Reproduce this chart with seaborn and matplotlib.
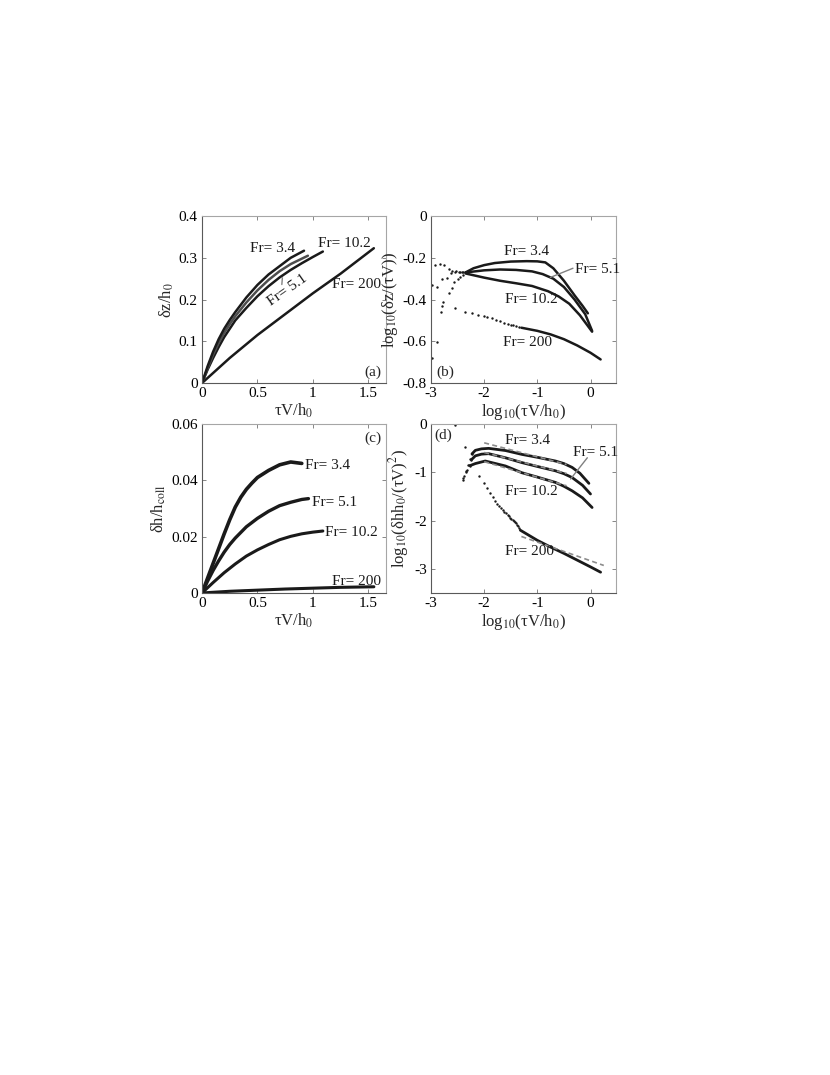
import numpy as np
import matplotlib
matplotlib.use('Agg')
import matplotlib.pyplot as plt
import seaborn as sns

# ---- panel (a): dz/h0 vs tauV/h0 ----
a34_x = [0, 0.05, 0.1, 0.15, 0.2, 0.25, 0.3, 0.4, 0.5, 0.6, 0.7, 0.8, 0.92]
a34_y = [0, 0.04, 0.075, 0.105, 0.13, 0.151, 0.17, 0.205, 0.235, 0.26, 0.28, 0.30, 0.317]
a51_x = [0, 0.05, 0.1, 0.15, 0.2, 0.25, 0.3, 0.4, 0.5, 0.6, 0.7, 0.8, 0.955]
a51_y = [0, 0.035, 0.068, 0.096, 0.12, 0.141, 0.16, 0.193, 0.222, 0.247, 0.268, 0.285, 0.305]
a102_x = [0, 0.05, 0.1, 0.15, 0.2, 0.3, 0.4, 0.5, 0.6, 0.7, 0.8, 0.9, 1.0, 1.09]
a102_y = [0, 0.032, 0.06, 0.086, 0.11, 0.15, 0.18, 0.208, 0.232, 0.253, 0.271, 0.287, 0.302, 0.315]
a200_x = [0, 0.25, 0.5, 0.75, 1.0, 1.25, 1.55]
a200_y = [0, 0.06, 0.115, 0.165, 0.215, 0.262, 0.323]

# ---- panel (b): log10(dz/(tauV)) vs log10(tauV/h0) ----
b34_dots_x = [-2.925, -2.83, -2.75, -2.67, -2.60, -2.53, -2.46, -2.40]
b34_dots_y = [-0.235, -0.231, -0.235, -0.254, -0.262, -0.265, -0.268, -0.27]
b34_x = [-2.35, -2.2, -2.0, -1.8, -1.5, -1.2, -1.0, -0.85, -0.7, -0.5, -0.3, -0.15, -0.05]
b34_y = [-0.27, -0.25, -0.235, -0.225, -0.218, -0.216, -0.217, -0.222, -0.25, -0.31, -0.38, -0.43, -0.466]

b51_dots_x = [-2.975, -2.89, -2.80, -2.70, -2.62, -2.55, -2.48, -2.42]
b51_dots_y = [-0.33, -0.34, -0.302, -0.298, -0.275, -0.27, -0.27, -0.27]
b51_x = [-2.35, -2.0, -1.7, -1.4, -1.1, -0.9, -0.7, -0.5, -0.3, -0.1, 0.03]
b51_y = [-0.27, -0.26, -0.256, -0.258, -0.265, -0.278, -0.30, -0.34, -0.40, -0.47, -0.55]

b102_dots_x = [-2.975, -2.89, -2.80, -2.77, -2.67, -2.61, -2.56, -2.50, -2.45, -2.40]
b102_dots_y = [-0.682, -0.602, -0.43, -0.41, -0.37, -0.343, -0.318, -0.30, -0.29, -0.28]
b102_x = [-2.35, -2.0, -1.7, -1.4, -1.1, -0.8, -0.6, -0.4, -0.2, 0.03]
b102_y = [-0.275, -0.295, -0.31, -0.322, -0.335, -0.36, -0.385, -0.42, -0.475, -0.554]

b200_dots_x = [-2.81, -2.55, -2.37, -2.22, -2.11, -2.01, -1.95, -1.86, -1.77, -1.70,
               -1.62, -1.56, -1.50, -1.45, -1.40, -1.35]
b200_dots_y = [-0.46, -0.442, -0.458, -0.465, -0.474, -0.48, -0.485, -0.49, -0.497, -0.503,
               -0.51, -0.515, -0.52, -0.523, -0.527, -0.531]
b200_x = [-1.3, -1.0, -0.75, -0.5, -0.25, 0.0, 0.19]
b200_y = [-0.535, -0.55, -0.567, -0.59, -0.62, -0.655, -0.687]

# ---- panel (c): dh/h_coll vs tauV/h0 ----
c34_x = [0, 0.1, 0.2, 0.25, 0.3, 0.35, 0.4, 0.45, 0.5, 0.6, 0.7, 0.8, 0.9]
c34_y = [0, 0.0105, 0.021, 0.026, 0.0305, 0.034, 0.0368, 0.039, 0.041, 0.0435, 0.0455, 0.0465, 0.046]
c51_x = [0, 0.05, 0.1, 0.15, 0.2, 0.25, 0.3, 0.4, 0.5, 0.6, 0.7, 0.8, 0.9, 0.96]
c51_y = [0, 0.0042, 0.008, 0.0114, 0.0145, 0.0172, 0.0195, 0.0235, 0.0265, 0.029, 0.031, 0.0322, 0.0332, 0.0335]
c102_x = [0, 0.1, 0.2, 0.3, 0.4, 0.5, 0.6, 0.7, 0.8, 0.9, 1.0, 1.09]
c102_y = [0, 0.0037, 0.0072, 0.0103, 0.0131, 0.0153, 0.0172, 0.0189, 0.0201, 0.021, 0.0216, 0.022]
c200_x = [0, 0.25, 0.5, 0.75, 1.0, 1.25, 1.55]
c200_y = [0, 0.0006, 0.001, 0.0014, 0.0017, 0.002, 0.0022]

# ---- panel (d): log10(dh h0/(tauV)^2) vs log10(tauV/h0) ----
d34_dots_x = [-2.39, -2.35, -2.31, -2.27, -2.23]
d34_dots_y = [-1.12, -0.98, -0.84, -0.72, -0.62]
d34_x = [-2.23, -2.166, -2.05, -1.915, -1.6, -1.29, -1.0, -0.66, -0.5, -0.345, -0.2, -0.03]
d34_y = [-0.62, -0.546, -0.515, -0.505, -0.55, -0.63, -0.69, -0.767, -0.82, -0.90, -1.02, -1.23]

d51_dots_x = [-2.39, -2.34, -2.29, -2.24]
d51_dots_y = [-1.17, -1.0, -0.85, -0.74]
d51_x = [-2.24, -2.166, -2.05, -1.915, -1.6, -1.29, -1.0, -0.66, -0.5, -0.345, -0.15, 0.0]
d51_y = [-0.74, -0.66, -0.625, -0.615, -0.70, -0.80, -0.88, -0.97, -1.03, -1.11, -1.27, -1.45]

d102_dots_x = [-2.38, -2.32, -2.26]
d102_dots_y = [-1.08, -0.95, -0.86]
d102_x = [-2.26, -2.166, -1.98, -1.6, -1.29, -1.0, -0.66, -0.5, -0.345, -0.15, 0.03]
d102_y = [-0.86, -0.82, -0.767, -0.87, -1.01, -1.10, -1.21, -1.29, -1.385, -1.53, -1.73]

d200_dots_x = [-2.54, -2.36, -2.1, -2.0, -1.94, -1.89, -1.84, -1.80, -1.76, -1.72, -1.69,
               -1.65, -1.62, -1.59, -1.56, -1.54, -1.51, -1.49, -1.46, -1.44, -1.42,
               -1.40, -1.38, -1.36, -1.34]
d200_dots_y = [-0.03, -0.48, -1.08, -1.22, -1.33, -1.43, -1.52, -1.59, -1.65, -1.70, -1.74,
               -1.78, -1.82, -1.85, -1.88, -1.91, -1.94, -1.96, -1.99, -2.01, -2.03,
               -2.06, -2.09, -2.12, -2.16]
d200_x = [-1.32, -1.0, -0.75, -0.5, -0.25, 0.0, 0.19]
d200_y = [-2.2, -2.41, -2.55, -2.68, -2.82, -2.96, -3.07]

# power-law fits (grey dashed)
fit_x = {'3.4': [-2.0, -0.45], '5.1': [-2.0, -0.45], '10.2': [-2.0, -0.45], '200': [-1.3, 0.25]}
fit_y = {'3.4': [-0.39, -0.84], '5.1': [-0.59, -1.025], '10.2': [-0.78, -1.28], '200': [-2.33, -2.93]}

sns.set_theme(style='ticks')
plt.rcParams['font.family'] = ['Liberation Serif', 'DejaVu Serif']
plt.rcParams['mathtext.fontset'] = 'stix'
plt.rcParams['font.size'] = 11

INK = '#1a1a1a'


def curve(ax, x, y, lw=1.8, color=INK):
    sns.lineplot(x=x, y=y, ax=ax, color=color, lw=lw, sort=False, estimator=None)


def dots(ax, x, y):
    sns.scatterplot(x=x, y=y, ax=ax, color=INK, s=3, linewidth=0, marker='o')


def style_axes(ax):
    ax.tick_params(direction='in', top=True, right=True, length=3, width=0.6,
                   color='0.45', labelsize=11, pad=3, labelcolor='black')
    for side in ['left', 'bottom']:
        ax.spines[side].set_color('0.35')
        ax.spines[side].set_linewidth(0.8)
    for side in ['top', 'right']:
        ax.spines[side].set_color('0.65')
        ax.spines[side].set_linewidth(0.8)


def lab(ax, x, y, s, **kw):
    ax.text(x, y, s, fontsize=11, ha='left', va='center', color=INK, **kw)


fig = plt.figure(figsize=(8.3, 10.75), dpi=100)
ax_a = fig.add_axes([0.2434, 0.6437, 0.2217, 0.1553])
ax_b = fig.add_axes([0.5193, 0.6437, 0.2229, 0.1553])
ax_c = fig.add_axes([0.2434, 0.4484, 0.2217, 0.1572])
ax_d = fig.add_axes([0.5193, 0.4484, 0.2229, 0.1572])

# (a)
curve(ax_a, a200_x, a200_y)
curve(ax_a, a102_x, a102_y)
curve(ax_a, a51_x, a51_y, color='0.3')
curve(ax_a, a34_x, a34_y)
ax_a.set_xlim(0, 1.66)
ax_a.set_ylim(0, 0.4)
ax_a.set_xticks([0, 0.5, 1, 1.5])
ax_a.set_xticklabels(['0', '0.5', '1', '1.5'])
ax_a.set_yticks([0, 0.1, 0.2, 0.3, 0.4])
ax_a.set_yticklabels(['0', '0.1', '0.2', '0.3', '0.4'])
ax_a.set_xlabel('τV/h$_0$', fontsize=12, labelpad=1)
ax_a.set_ylabel('δz/h$_0$', fontsize=12, labelpad=2)
lab(ax_a, 0.434, 0.323, 'Fr= 3.4')
lab(ax_a, 1.05, 0.335, 'Fr= 10.2')
lab(ax_a, 1.174, 0.235, 'Fr= 200')
ax_a.text(0.768, 0.222, 'Fr= 5.1', fontsize=11, ha='center', va='center', rotation=35, color=INK)
ax_a.plot([0.72, 0.725], [0.236, 0.252], color='0.5', lw=1)
ax_a.text(0.93, 0.066, '(a)', transform=ax_a.transAxes, fontsize=11, ha='center', va='center')
style_axes(ax_a)

# (b)
for dx, dy in [(b34_dots_x, b34_dots_y), (b51_dots_x, b51_dots_y),
               (b102_dots_x, b102_dots_y), (b200_dots_x, b200_dots_y)]:
    dots(ax_b, dx, dy)
curve(ax_b, b34_x, b34_y)
curve(ax_b, b51_x, b51_y)
curve(ax_b, b102_x, b102_y)
curve(ax_b, b200_x, b200_y)
ax_b.set_xlim(-3, 0.48)
ax_b.set_ylim(-0.8, 0)
ax_b.set_xticks([-3, -2, -1, 0])
ax_b.set_xticklabels(['-3', '-2', '-1', '0'])
ax_b.set_yticks([-0.8, -0.6, -0.4, -0.2, 0])
ax_b.set_yticklabels(['-0.8', '-0.6', '-0.4', '-0.2', '0'])
ax_b.set_xlabel('log$_{10}$(τV/h$_0$)', fontsize=12, labelpad=1)
ax_b.set_ylabel('log$_{10}$(δz/(τV))', fontsize=12, labelpad=2)
lab(ax_b, -1.62, -0.172, 'Fr= 3.4')
lab(ax_b, -0.30, -0.254, 'Fr= 5.1')
ax_b.plot([-0.33, -0.755], [-0.25, -0.294], color='0.5', lw=1)
lab(ax_b, -1.60, -0.402, 'Fr= 10.2')
lab(ax_b, -1.64, -0.608, 'Fr= 200')
ax_b.text(0.076, 0.066, '(b)', transform=ax_b.transAxes, fontsize=11, ha='center', va='center')
style_axes(ax_b)

# (c)
curve(ax_c, c34_x, c34_y, lw=2.6)
curve(ax_c, c51_x, c51_y, lw=2.4)
curve(ax_c, c102_x, c102_y, lw=2.2)
curve(ax_c, c200_x, c200_y, lw=2.2)
ax_c.set_xlim(0, 1.66)
ax_c.set_ylim(0, 0.06)
ax_c.set_xticks([0, 0.5, 1, 1.5])
ax_c.set_xticklabels(['0', '0.5', '1', '1.5'])
ax_c.set_yticks([0, 0.02, 0.04, 0.06])
ax_c.set_yticklabels(['0', '0.02', '0.04', '0.06'])
ax_c.set_xlabel('τV/h$_0$', fontsize=12, labelpad=1)
ax_c.set_ylabel('δh/h$_{\\mathrm{coll}}$', fontsize=12, labelpad=2)
lab(ax_c, 0.93, 0.0454, 'Fr= 3.4')
lab(ax_c, 0.994, 0.032, 'Fr= 5.1')
lab(ax_c, 1.11, 0.0213, 'Fr= 10.2')
lab(ax_c, 1.174, 0.0039, 'Fr= 200')
ax_c.text(0.93, 0.917, '(c)', transform=ax_c.transAxes, fontsize=11, ha='center', va='center')
style_axes(ax_c)

# (d)
for dx, dy in [(d34_dots_x, d34_dots_y), (d51_dots_x, d51_dots_y),
               (d102_dots_x, d102_dots_y), (d200_dots_x, d200_dots_y)]:
    dots(ax_d, dx, dy)
curve(ax_d, d34_x, d34_y, lw=2.0)
curve(ax_d, d51_x, d51_y, lw=2.0)
curve(ax_d, d102_x, d102_y, lw=2.0)
curve(ax_d, d200_x, d200_y, lw=2.0)
for k in fit_x:
    ax_d.plot(fit_x[k], fit_y[k], color='0.55', lw=1.2, ls=(0, (3, 2)))
ax_d.set_xlim(-3, 0.48)
ax_d.set_ylim(-3.5, 0)
ax_d.set_xticks([-3, -2, -1, 0])
ax_d.set_xticklabels(['-3', '-2', '-1', '0'])
ax_d.set_yticks([-3, -2, -1, 0])
ax_d.set_yticklabels(['-3', '-2', '-1', '0'])
ax_d.set_xlabel('log$_{10}$(τV/h$_0$)', fontsize=12, labelpad=1)
ax_d.set_ylabel('log$_{10}$(δhh$_0$/(τV)$^2$)', fontsize=12, labelpad=2)
lab(ax_d, -1.60, -0.34, 'Fr= 3.4')
lab(ax_d, -0.32, -0.59, 'Fr= 5.1')
ax_d.plot([-0.06, -0.375], [-0.70, -1.14], color='0.5', lw=1)
lab(ax_d, -1.60, -1.39, 'Fr= 10.2')
lab(ax_d, -1.60, -2.65, 'Fr= 200')
ax_d.text(0.066, 0.935, '(d)', transform=ax_d.transAxes, fontsize=11, ha='center', va='center')
style_axes(ax_d)

fig.savefig('out.png', dpi=100, facecolor='white')
